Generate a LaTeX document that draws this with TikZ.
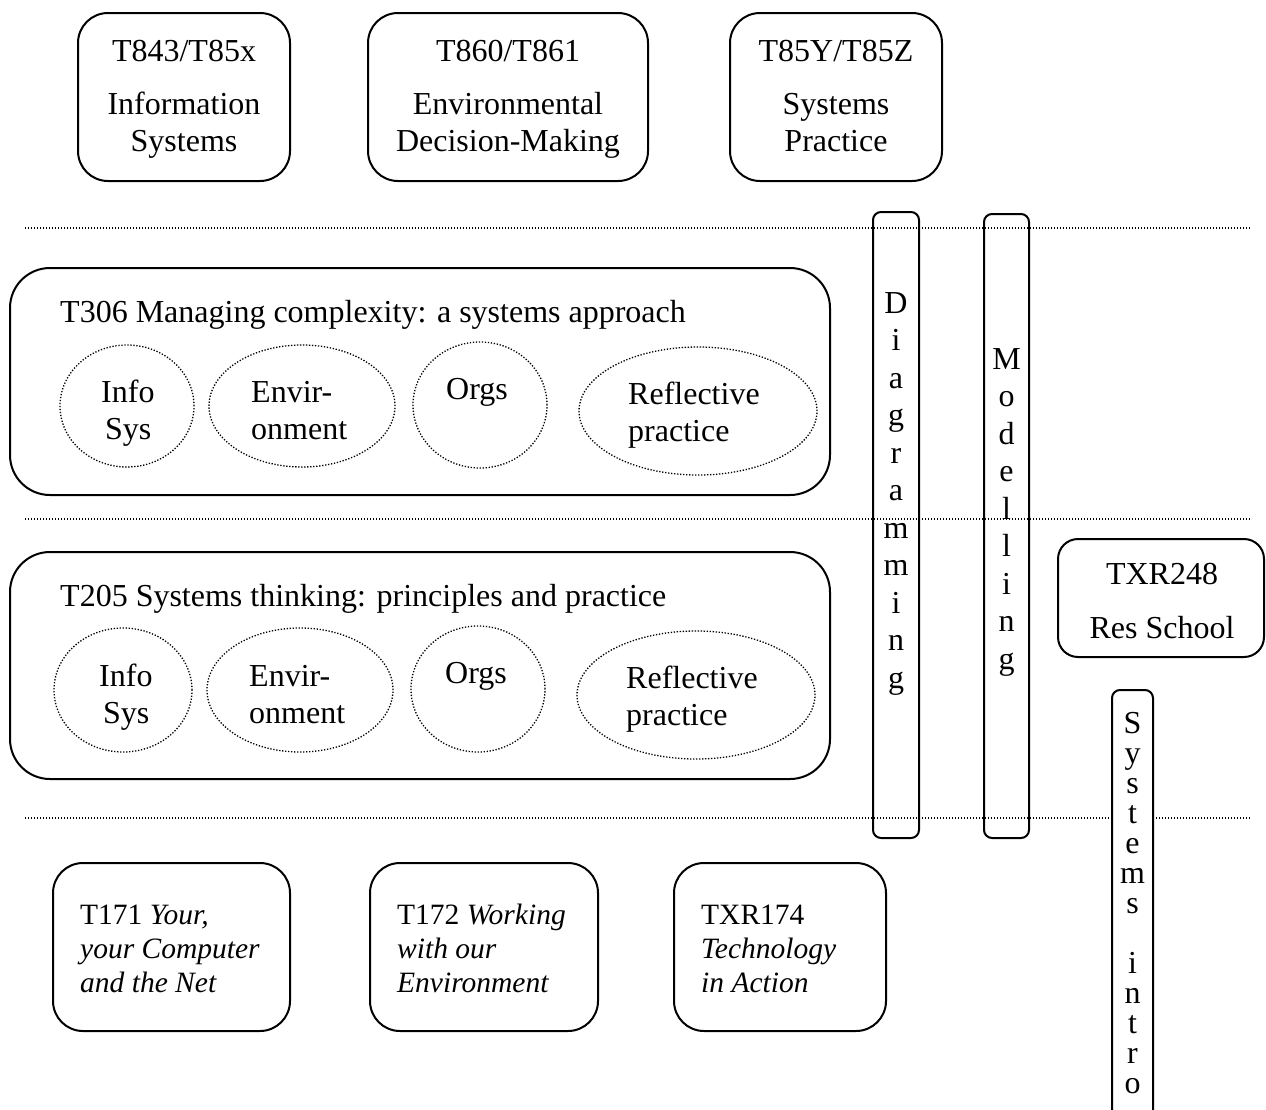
\documentclass[tikz,border=0pt]{standalone}
\usepackage{fontspec}
\setmainfont{Liberation Serif}
\usetikzlibrary{shapes.geometric}
\begin{document}
\begin{tikzpicture}[x=1pt,y=-1pt,
  rbox/.style={draw, line width=2pt, rectangle, rounded corners=#1, inner sep=0pt},
  rbox/.default=30pt,
  ell/.style={draw, ellipse, line width=1.3pt, dash pattern=on 1.3pt off 1.7pt, inner sep=0pt},
  sepline/.style={line width=1.2pt, dash pattern=on 1.2pt off 1.8pt},
  big/.style={font=\fontsize{32}{37}\selectfont, inner sep=0pt, anchor=base},
  bigl/.style={big, anchor=base west},
  smalll/.style={font=\fontsize{29.5}{34}\selectfont, inner sep=0pt, anchor=base west},
  vert/.style={font=\fontsize{32}{#1}\selectfont, inner sep=0pt, align=center, anchor=north},
  vert/.default=37.5pt,
]
\clip (0,0) rectangle (1266,1109);
\fill[white] (0,0) rectangle (1266,1109);

% separator lines
\coordinate (s1a) at (25,228);  \coordinate (s1b) at (1250,228);
\coordinate (s2a) at (25,519);  \coordinate (s2b) at (1250,519);
\coordinate (s3a) at (25,818);  \coordinate (s3b) at (1250,818);
\draw[sepline] (s1a) -- (s1b);
\draw[sepline] (s2a) -- (s2b);
\draw[sepline] (s3a) -- (s3b);

% top row
\node[rbox, minimum width=212pt, minimum height=168pt] (t843) at (184,97) {};
\node[big] (t843a) at (184,61) {T843/T85x};
\node[big] (t843b) at (184,114) {Information};
\node[big] (t843c) at (184,151) {Systems};

\node[rbox, minimum width=280pt, minimum height=168pt] (t860) at (508,97) {};
\node[big] (t860a) at (508,61) {T860/T861};
\node[big] (t860b) at (508,114) {Environmental};
\node[big] (t860c) at (508,151) {Decision-Making};

\node[rbox, minimum width=212pt, minimum height=168pt] (t85y) at (836,97) {};
\node[big] (t85ya) at (836,61) {T85Y/T85Z};
\node[big] (t85yb) at (836,114) {Systems};
\node[big] (t85yc) at (836,151) {Practice};

% T306
\node[rbox=40pt, minimum width=820pt, minimum height=227pt] (t306) at (420,381.5) {};
\node[bigl] (t306t) at (60,322) {T306 Managing complexity: a systems approach};
\node[ell, minimum width=134pt, minimum height=122pt] (e1) at (127,406) {};
\node[ell, minimum width=186pt, minimum height=122pt] (e2) at (302,406) {};
\node[ell, minimum width=134pt, minimum height=126pt] (e3) at (480,405) {};
\node[ell, minimum width=238pt, minimum height=128pt] (e4) at (698,411) {};
\node[bigl] (e1a) at (101,402) {Info};
\node[bigl] (e1b) at (105,439) {Sys};
\node[bigl] (e2a) at (251,402) {Envir-};
\node[bigl] (e2b) at (251,439) {onment};
\node[bigl] (e3a) at (446,399) {Orgs};
\node[bigl] (e4a) at (628,404) {Reflective};
\node[bigl] (e4b) at (628,441) {practice};

% T205
\node[rbox=40pt, minimum width=820pt, minimum height=227pt] (t205) at (420,665.5) {};
\node[bigl] (t205t) at (60,606) {T205 Systems thinking: principles and practice};
\node[ell, minimum width=138pt, minimum height=124pt] (f1) at (123,690) {};
\node[ell, minimum width=186pt, minimum height=124pt] (f2) at (300,690) {};
\node[ell, minimum width=134pt, minimum height=126pt] (f3) at (478,689) {};
\node[ell, minimum width=238pt, minimum height=128pt] (f4) at (696,695) {};
\node[bigl] (f1a) at (99,686) {Info};
\node[bigl] (f1b) at (103,723) {Sys};
\node[bigl] (f2a) at (249,686) {Envir-};
\node[bigl] (f2b) at (249,723) {onment};
\node[bigl] (f3a) at (445,683) {Orgs};
\node[bigl] (f4a) at (626,688) {Reflective};
\node[bigl] (f4b) at (626,725) {practice};

% vertical bars
\node[rbox=8pt, minimum width=46pt, minimum height=626pt] (diag) at (896,525) {};
\node[vert] (diagt) at (896,292) {D\\i\\a\\g\\r\\a\\m\\m\\i\\n\\g};
\node[rbox=8pt, minimum width=45pt, minimum height=624pt] (model) at (1006.5,526) {};
\node[vert] (modelt) at (1006.5,348) {M\\o\\d\\e\\l\\l\\i\\n\\g};

% TXR248
\node[rbox=20pt, minimum width=206pt, minimum height=118pt] (txr248) at (1161,598) {};
\node[big] (txr248a) at (1162,584) {TXR248};
\node[big] (txr248b) at (1162,638) {Res School};

% Systems intro
\node[rbox=8pt, fill=white, minimum width=41pt, minimum height=450pt] (sysi) at (1132.5,915) {};
\node[vert=30pt] (sysit) at (1132.5,712) {S\\y\\s\\t\\e\\m\\s\\\mbox{}\\i\\n\\t\\r\\o};

% bottom row
\node[rbox, minimum width=237pt, minimum height=168pt] (t171) at (171.5,947) {};
\node[smalll] (t171a) at (80,924) {T171 \textit{Your,}};
\node[smalll] (t171b) at (80,958) {\textit{your Computer}};
\node[smalll] (t171c) at (80,992) {\textit{and the Net}};

\node[rbox, minimum width=228pt, minimum height=168pt] (t172) at (484,947) {};
\node[smalll] (t172a) at (397,924) {T172 \textit{Working}};
\node[smalll] (t172b) at (397,958) {\textit{with our}};
\node[smalll] (t172c) at (397,992) {\textit{Environment}};

\node[rbox, minimum width=212pt, minimum height=168pt] (txr174) at (780,947) {};
\node[smalll] (txr174a) at (701,924) {TXR174};
\node[smalll] (txr174b) at (701,958) {\textit{Technology}};
\node[smalll] (txr174c) at (701,992) {\textit{in Action}};
\end{tikzpicture}
\end{document}
